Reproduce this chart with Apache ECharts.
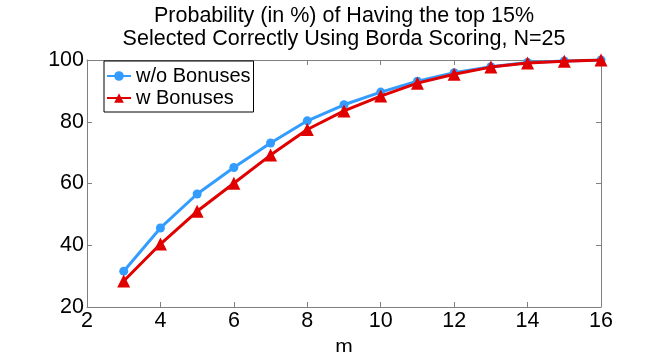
<!DOCTYPE html>
<html><head><meta charset="utf-8">
<script src="https://cdn.jsdelivr.net/npm/echarts@6/dist/echarts.min.js"></script>
<style>html,body{margin:0;padding:0;background:#fff}#c{width:664px;height:352px}</style>
</head><body><div id="c"></div>
<script>
const mValues = [3,4,5,6,7,8,9,10,11,12,13,14,15,16];
const woBonuses = [31.6,45.6,56.6,65.2,73.1,80.3,85.5,89.6,93.1,95.9,97.8,99.2,99.7,100];
const wBonuses = [28.4,40.4,51.0,60.1,69.2,77.5,83.5,88.3,92.5,95.4,97.7,99.0,99.6,100];
const titleLines = ['Probability (in %) of Having the top 15%','Selected Correctly Using Borda Scoring, N=25'];
const font = 'Liberation Sans, Arial, Helvetica, sans-serif';
const chart = echarts.init(document.getElementById('c'));
const axisLine = {show:true, lineStyle:{color:'#808080', width:1}};
const tick = {show:true, inside:true, length:5, lineStyle:{color:'#808080'}};
chart.setOption({
  animation:false,
  title:{text:titleLines.join('\n'), left:344, textAlign:'center', top:5, padding:0,
    textStyle:{fontFamily:font, fontSize:21.5, fontWeight:'normal', color:'#000', lineHeight:23}},
  legend:{left:104, top:61, orient:'vertical', backgroundColor:'#fff', borderColor:'#000', borderWidth:1,
    padding:[5,3,4,2], itemGap:2, itemWidth:24, itemHeight:12,
    textStyle:{fontFamily:font, fontSize:20, color:'#000', lineHeight:20},
    data:['w/o Bonuses','w Bonuses']},
  grid:{left:87, right:63, top:60, bottom:45, containLabel:false, outerBoundsMode:'none'},
  xAxis:[{type:'value', min:2, max:16, interval:2, name:'m', nameLocation:'middle', nameGap:17,
    nameTextStyle:{fontFamily:font, fontSize:21, color:'#000'},
    axisLine:axisLine, axisTick:tick,
    axisLabel:{fontFamily:font, fontSize:21.5, color:'#000', margin:3}, splitLine:{show:false}},
    {type:'value', position:'top', min:2, max:16, interval:2, axisLine:axisLine,
    axisTick:tick, axisLabel:{show:false}, splitLine:{show:false}}],
  yAxis:[{type:'value', min:20, max:100, interval:20,
    axisLine:axisLine, axisTick:tick,
    axisLabel:{fontFamily:font, fontSize:21.5, color:'#000', margin:3}, splitLine:{show:false}},
    {type:'value', position:'right', min:20, max:100, interval:20, axisLine:axisLine,
    axisTick:tick, axisLabel:{show:false}, splitLine:{show:false}}],
  series:[
    {name:'w/o Bonuses', type:'line', data:mValues.map((m,i)=>[m,woBonuses[i]]),
      symbol:'circle', symbolSize:9, color:'#339cff', lineStyle:{width:3, color:'#339cff'},
      itemStyle:{color:'#339cff'}, z:2},
    {name:'w Bonuses', type:'line', data:mValues.map((m,i)=>[m,wBonuses[i]]),
      symbol:'triangle', symbolSize:13, color:'#e00000', lineStyle:{width:3, color:'#e00000'},
      itemStyle:{color:'#e00000'}, z:3}
  ]
});
</script></body></html>
